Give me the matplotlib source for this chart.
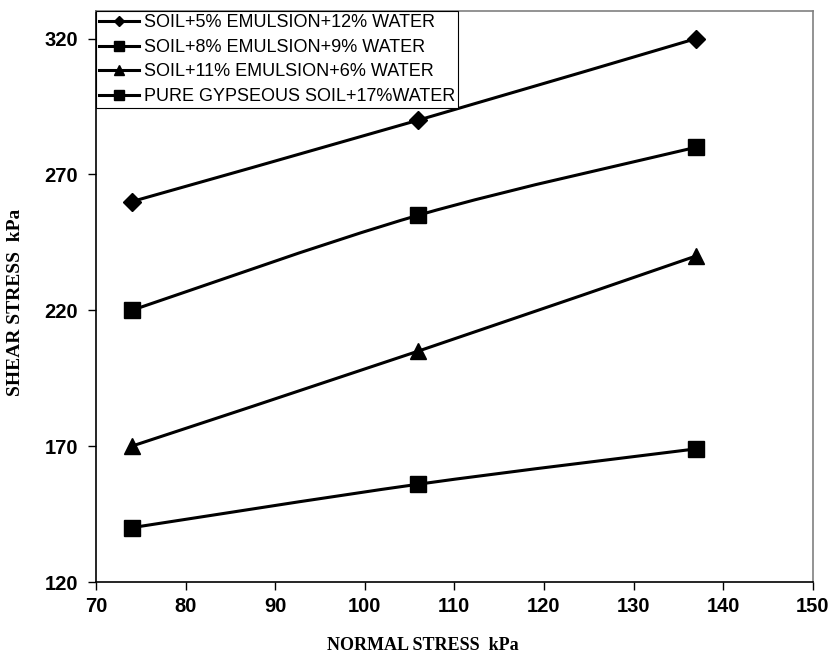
import matplotlib
matplotlib.use("Agg")
import matplotlib.pyplot as plt
from matplotlib.path import Path
from matplotlib.patches import PathPatch
from matplotlib.lines import Line2D

# --- datos ---
normal_stress = [74, 106, 137]

serie_5 = [260, 290, 320]
serie_8 = [220, 255, 280]
serie_11 = [170, 205, 240]
serie_pura = [140, 156, 169]

etiquetas = [
    "SOIL+5% EMULSION+12% WATER",
    "SOIL+8% EMULSION+9% WATER",
    "SOIL+11% EMULSION+6% WATER",
    "PURE GYPSEOUS SOIL+17%WATER",
]
marcadores = ["D", "s", "^", "s"]
tam_marcador = [9, 12, 11, 12]

x_ticks = [70, 80, 90, 100, 110, 120, 130, 140, 150]
y_ticks = [120, 170, 220, 270, 320]


def curva_suave(xs, ys):
    """Curva suavizada tipo Excel (Bezier con tangentes Catmull-Rom)."""
    pts = list(zip(xs, ys))
    n = len(pts)
    verts = [pts[0]]
    codes = [Path.MOVETO]
    for i in range(n - 1):
        p0 = pts[i - 1] if i > 0 else pts[i]
        p1 = pts[i]
        p2 = pts[i + 1]
        p3 = pts[i + 2] if i + 2 < n else pts[i + 1]
        c1 = (p1[0] + (p2[0] - p0[0]) / 6, p1[1] + (p2[1] - p0[1]) / 6)
        c2 = (p2[0] - (p3[0] - p1[0]) / 6, p2[1] - (p3[1] - p1[1]) / 6)
        verts += [c1, c2, p2]
        codes += [Path.CURVE4] * 3
    return Path(verts, codes)


fig = plt.figure(figsize=(8.29, 6.58), dpi=100)
ax = fig.add_axes([0.1158, 0.1155, 0.8645, 0.8672])

series = [serie_5, serie_8, serie_11, serie_pura]
handles = []
for ys, m, ms, lab in zip(series, marcadores, tam_marcador, etiquetas):
    ax.add_patch(PathPatch(curva_suave(normal_stress, ys), fill=False,
                           edgecolor="black", lw=2.2, zorder=2))
    ax.plot(normal_stress, ys, linestyle="none", marker=m, ms=ms,
            color="black", zorder=3)
    handles.append(Line2D([], [], color="black", lw=2.2, marker=m,
                          ms=ms * 0.6))

ax.set_xlim(70, 150)
ax.set_ylim(120, 330)
ax.set_xticks(x_ticks)
ax.set_yticks(y_ticks)

for lado in ["top", "right"]:
    ax.spines[lado].set_color("#808080")
    ax.spines[lado].set_linewidth(1.2)
for lado in ["left", "bottom"]:
    ax.spines[lado].set_color("black")
    ax.spines[lado].set_linewidth(1.2)

ax.tick_params(direction="out", length=6, width=1)
ax.tick_params(axis="x", pad=5)
ax.tick_params(axis="y", pad=7)
for t in ax.get_xticklabels() + ax.get_yticklabels():
    t.set_fontfamily("Liberation Sans")
    t.set_fontweight("bold")
    t.set_fontsize(14.5)

ax.set_xlabel("NORMAL STRESS  kPa", fontfamily="Liberation Serif",
              fontweight="bold", fontsize=13)
ax.set_ylabel("SHEAR STRESS  kPa", fontfamily="Liberation Serif",
              fontweight="bold", fontsize=14)
ax.xaxis.set_label_coords(0.456, -0.097)
ax.yaxis.set_label_coords(-0.101, 0.49)

ley = ax.legend(handles, etiquetas, loc="upper left",
                bbox_to_anchor=(0.0, 1.0), borderaxespad=0,
                prop={"family": "Liberation Sans", "size": 13},
                handlelength=2.2, handletextpad=0.3, labelspacing=0.42,
                borderpad=0.16, fancybox=False, framealpha=1)
ley.get_frame().set_edgecolor("black")
ley.get_frame().set_linewidth(0.8)

fig.savefig("out.png", dpi=100)
